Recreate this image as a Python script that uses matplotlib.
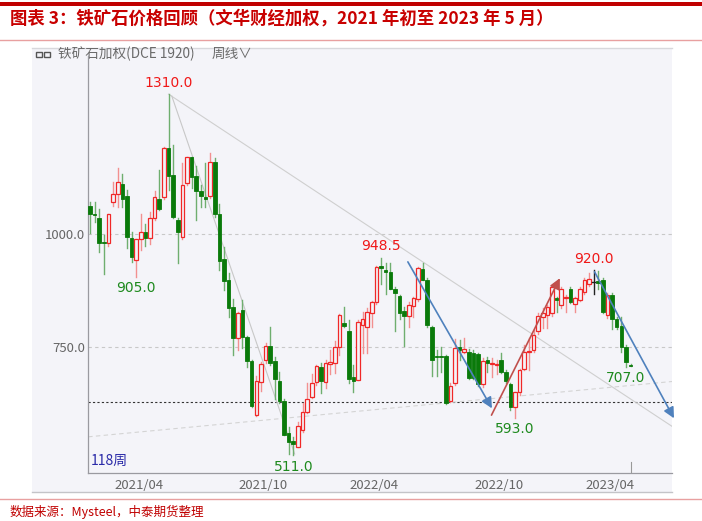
import numpy as np
import matplotlib.pyplot as plt
from matplotlib.patches import Rectangle
from matplotlib.lines import Line2D

plt.rcParams['font.family'] = ['Noto Sans CJK SC', 'DejaVu Sans']

# weekly OHLC, DCE iron ore weighted index, 2021-01 .. 2023-05 (118 weeks)
opens = [1062, 1046, 1035, 984, 980, 1072, 1090, 1111, 1085, 992,
         944, 990, 1006, 992, 1037, 1077, 1083, 1192, 1131, 1032,
         993, 1114, 1170, 1130, 1096, 1083, 1085, 1159, 1045, 945,
         899, 840, 770, 832, 772, 720, 600, 674, 722, 753,
         720, 675, 631, 560, 543, 530, 567, 607, 641, 674,
         707, 674, 713, 716, 751, 804, 787, 684, 678, 799,
         794, 825, 850, 930, 920, 916, 878, 864, 831, 819,
         841, 856, 923, 900, 796, 731, 731, 731, 632, 670,
         750, 740, 740, 738, 735, 669, 723, 714, 711, 722,
         696, 668, 619, 652, 701, 740, 745, 785, 818, 821,
         825, 858, 844, 858, 880, 846, 855, 873, 890, 895,
         897, 899, 821, 866, 812, 797, 750, 711]

highs = [1072, 1072, 1057, 998, 1046, 1116, 1146, 1133, 1098, 1006,
         990, 1046, 1023, 1050, 1096, 1142, 1194, 1310, 1197, 1035,
         1157, 1172, 1172, 1150, 1109, 1157, 1180, 1168, 1068, 973,
         914, 857, 829, 855, 775, 722, 687, 718, 760, 794,
         728, 696, 635, 574, 552, 585, 626, 670, 692, 711,
         716, 721, 744, 765, 824, 840, 810, 711, 810, 829,
         836, 853, 930, 948.5, 937, 936, 884, 866, 840, 851,
         861, 927, 936, 903, 798, 744, 751, 733, 672, 768,
         766, 770, 746, 745, 738, 726, 728, 726, 722, 738,
         700, 672, 652, 703, 755, 770, 788, 826, 836, 844,
         886, 862, 884, 866, 884, 862, 884, 903, 914, 920,
         918, 903, 870, 870, 818, 818, 755, 714]

lows = [1002, 1028, 961, 912, 975, 1062, 1061, 1061, 969, 939,
        905, 965, 975, 978, 1031, 1054, 1079, 1098, 1035, 936,
        989, 1110, 1102, 1031, 1060, 1061, 1080, 1039, 921, 877,
        818, 732, 744, 748, 707, 618, 598, 654, 715, 710,
        635, 626, 555, 515, 511, 529, 563, 604, 637, 667,
        648, 661, 691, 694, 733, 795, 670, 652, 677, 737,
        737, 794, 845, 891, 869, 878, 785, 812, 753, 796,
        818, 852, 898, 795, 687, 687, 696, 625, 628, 667,
        722, 737, 680, 680, 665, 663, 696, 685, 690, 694,
        672, 612, 593, 645, 700, 700, 740, 779, 792, 792,
        820, 829, 838, 829, 848, 829, 852, 869, 885, 869,
        880, 825, 815, 790, 790, 740, 707, 708]

closes = [1046, 1042, 980, 980, 1045, 1090, 1116, 1078, 993, 949,
          990, 1005, 992, 1037, 1083, 1055, 1192, 1128, 1039, 1004,
          1109, 1170, 1126, 1096, 1085, 1079, 1161, 1045, 940, 897,
          837, 771, 826, 772, 720, 620, 675, 714, 752, 715,
          679, 631, 557, 541, 536, 577, 607, 635, 672, 709,
          675, 715, 718, 751, 821, 797, 679, 676, 807, 813,
          829, 851, 928, 925, 916, 880, 871, 827, 819, 843,
          858, 925, 900, 799, 723, 729, 729, 626, 665, 748,
          743, 746, 683, 683, 669, 720, 715, 716, 714, 696,
          676, 617, 652, 700, 740, 742, 777, 819, 825, 840,
          884, 855, 880, 862, 851, 858, 878, 899, 902, 895,
          892, 829, 866, 812, 795, 751, 718, 709]

month_labels = ['2021/04', '2021/10', '2022/04', '2022/10', '2023/04']
month_weeks = [10.6, 37.4, 61.5, 88.5, 112.6]

peaks = [(17, 1310.0), (63, 948.5), (109, 920.0)]
troughs = [(10, 905.0), (44, 511.0), (92, 593.0), (116, 707.0)]

grid_levels = [750, 1000]
support_level = 630

# trend lines drawn on the chart (week, price)
peak_line = [(17, 1310), (126.6, 571)]
steep_line = [(17.7, 1306), (44.3, 514)]
rising_line = [(-0.4, 552), (126.6, 675)]
down_arrow_1 = [(68.8, 939), (87.0, 615)]
up_arrow = [(86.9, 600), (101.7, 903)]
down_arrow_2 = [(109.2, 917), (126.4, 593)]

W, H = 702, 521

fig = plt.figure(figsize=(W / 100, H / 100), dpi=100)


def fx(px):
    return px / W


def fy(py):
    return 1 - py / H


# page decorations
fig.add_artist(Rectangle((0, fy(6)), 1, 4 / H, transform=fig.transFigure,
                         facecolor='#c00000', edgecolor='none'))

fig.text(fx(10), fy(19),
         '图表 3：铁矿石价格回顾（文华财经加权，2021 年初至 2023 年 5 月）',
         color='#c80000', fontsize=12.5, fontweight='bold', fontstyle='italic',
         va='center', ha='left')

fig.add_artist(Line2D([0, 1], [fy(40), fy(40)], transform=fig.transFigure,
                      color='#e8a0a0', lw=1))

# chart panel
fig.add_artist(Rectangle((fx(32), fy(492)), fx(640), (492 - 48) / H,
                         transform=fig.transFigure,
                         facecolor='#f4f4f9', edgecolor='none'))

fig.add_artist(Line2D([fx(32), fx(672)], [fy(48), fy(48)],
                      transform=fig.transFigure, color='#d8d8dc', lw=1))

fig.add_artist(Line2D([fx(32), fx(672)], [fy(492), fy(492)],
                      transform=fig.transFigure, color='#c4c4c8', lw=1))

fig.add_artist(Rectangle((fx(36), fy(57)), 6 / W, 5 / H,
                         transform=fig.transFigure, facecolor='none',
                         edgecolor='#555555', lw=1))
fig.add_artist(Rectangle((fx(44), fy(57)), 6 / W, 5 / H,
                         transform=fig.transFigure, facecolor='none',
                         edgecolor='#555555', lw=1))

fig.text(fx(58), fy(54), '铁矿石加权(DCE 1920)', color='#6a6a6a',
         fontsize=9.8, va='center', ha='left')
fig.text(fx(212), fy(54), '周线∨', color='#6a6a6a',
         fontsize=9.8, va='center', ha='left')

fig.add_artist(Line2D([0, 1], [fy(499), fy(499)], transform=fig.transFigure,
                      color='#e8a0a0', lw=1))

fig.text(fx(10), fy(512), '数据来源：Mysteel，中泰期货整理', color='#c00000',
         fontsize=9, va='center', ha='left')

# price axes
ax = fig.add_axes([fx(88), fy(473), fx(672) - fx(88), (473 - 56) / H])
ax.set_zorder(5)
ax.patch.set_alpha(0)

n = len(closes)
x = np.arange(n)
ax.set_xlim(-0.43, 125.97)
ax.set_ylim(472.0, 1394.4)

for lvl in grid_levels:
    ax.axhline(lvl, color='#c8c8c8', lw=0.8, ls=(0, (3, 3)), zorder=1)

ax.axhline(support_level, color='#333333', lw=0.8, ls=(0, (2, 2)), zorder=1)

ax.plot(*zip(*peak_line), color='#cfcfcf', lw=0.8, zorder=1)
ax.plot(*zip(*steep_line), color='#c8c8c8', lw=0.8, zorder=1)
ax.plot(*zip(*rising_line), color='#d4d4d4', lw=0.8, ls=(0, (4, 3)), zorder=1)

body_w = 0.78

for i in x:
    o, h, l, c = opens[i], highs[i], lows[i], closes[i]

    if c > o:
        ax.plot([i, i], [l, h], color='#f29090', lw=1, zorder=2)
        ax.add_patch(Rectangle((i - body_w / 2, o), body_w, c - o,
                               facecolor='#f4f4f9', edgecolor='#f02828',
                               lw=0.9, zorder=3))
    elif c < o:
        ax.plot([i, i], [l, h], color='#6fae6f', lw=1, zorder=2)
        ax.add_patch(Rectangle((i - body_w / 2, c), body_w, o - c,
                               facecolor='#0a7a0a', edgecolor='#0a7a0a',
                               lw=0.6, zorder=3))
    else:
        ax.plot([i, i], [l, h], color='#222222', lw=1, zorder=2)
        ax.plot([i - body_w / 2, i + body_w / 2], [o, o],
                color='#222222', lw=1, zorder=3)

for i, v in peaks:
    ax.annotate(f'{v:.1f}', (i, v), xytext=(0, 3), textcoords='offset points',
                ha='center', va='bottom', color='#f01818', fontsize=10,
                family='DejaVu Sans')

for i, v in troughs:
    ax.annotate(f'{v:.1f}', (i, v), xytext=(0, -3), textcoords='offset points',
                ha='center', va='top', color='#1e8a1e', fontsize=10,
                family='DejaVu Sans')

for line, col in [(down_arrow_1, '#4f81bd'), (up_arrow, '#c0504d'),
                  (down_arrow_2, '#4f81bd')]:
    ax.annotate('', xy=line[1], xytext=line[0],
                arrowprops=dict(arrowstyle='-|>', color=col, lw=1.2,
                                mutation_scale=16, shrinkA=0, shrinkB=0),
                annotation_clip=False, zorder=4)

ax.plot([n - 1, n - 1], [472.0, 496.0], color='#999999', lw=0.8)

ax.text(0.004, 0.012, f'{n}周', transform=ax.transAxes, color='#2a2aa8',
        fontsize=10, ha='left', va='bottom')

ax.set_yticks(grid_levels)
ax.set_yticklabels([f'{v:.1f}' for v in grid_levels])
ax.set_xticks(month_weeks)
ax.set_xticklabels(month_labels)

ax.tick_params(axis='both', length=0, colors='#666666', labelsize=9.5)
ax.tick_params(axis='y', pad=2)
ax.tick_params(axis='x', pad=4)

for side in ['top', 'right']:
    ax.spines[side].set_visible(False)
for side in ['left', 'bottom']:
    ax.spines[side].set_color('#9a9aa0')
    ax.spines[side].set_linewidth(0.9)

fig.savefig('out.png', dpi=100)
